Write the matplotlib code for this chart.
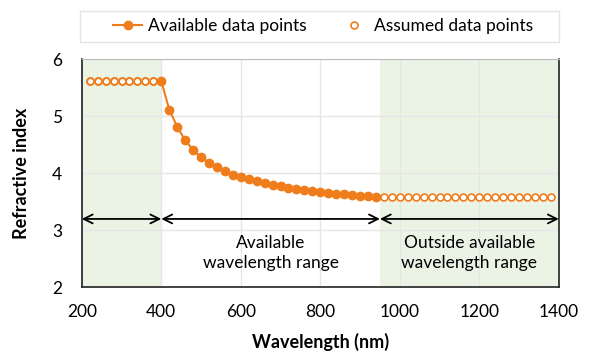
import matplotlib.pyplot as plt
from matplotlib.patches import Rectangle

plt.rcParams['font.family'] = ['Lato', 'DejaVu Sans']

# available (measured) data
wl_avail = [400, 420, 440, 460, 480, 500, 520, 540, 560, 580, 600, 620, 640, 660,
            680, 700, 720, 740, 760, 780, 800, 820, 840, 860, 880, 900, 920, 940]
n_avail = [5.62, 5.12, 4.82, 4.58, 4.41, 4.28, 4.19, 4.11, 4.04, 3.98, 3.94, 3.90,
           3.86, 3.83, 3.80, 3.77, 3.75, 3.73, 3.71, 3.69, 3.67, 3.66, 3.64, 3.63,
           3.62, 3.61, 3.60, 3.59]

# assumed (extrapolated constant) points
wl_low = [220, 240, 260, 280, 300, 320, 340, 360, 380]
n_low = [5.62] * len(wl_low)
wl_high = [960, 980, 1000, 1020, 1040, 1060, 1080, 1100, 1120, 1140, 1160,
           1180, 1200, 1220, 1240, 1260, 1280, 1300, 1320, 1340, 1360, 1380]
n_high = [3.59] * len(wl_high)

range_edges = [200, 400, 950, 1400]
arrow_y = 3.2

orange = '#F07D1C'
shade = '#EBF3E5'

fig = plt.figure(figsize=(5.97, 3.56), dpi=100)
ax = fig.add_axes([0.137, 0.193, 0.799, 0.640])

ax.axvspan(range_edges[0], range_edges[1], color=shade, zorder=0, lw=0)
ax.axvspan(range_edges[2], range_edges[3], color=shade, zorder=0, lw=0)

ax.plot(wl_avail, n_avail, '-o', color=orange, lw=1.5, ms=6,
        label='Available data points', zorder=4)
ax.plot(wl_low + wl_high, n_low + n_high, 'o', ls='none', mfc='white',
        mec=orange, mew=1.2, ms=5, label='Assumed data points', zorder=3)
ax.plot(wl_low, n_low, 'o', mfc='none', mec=orange, mew=1.2, ms=5, zorder=3)

for a, b in zip(range_edges[:-1], range_edges[1:]):
    ax.annotate('', xy=(a, arrow_y), xytext=(b, arrow_y),
                arrowprops=dict(arrowstyle='<->', color='black', lw=1.3,
                                shrinkA=0, shrinkB=0, mutation_scale=16),
                zorder=5)

ax.text(675, 2.6, 'Available\nwavelength range', ha='center', va='center',
        fontsize=12.5, linespacing=1.3)
ax.text(1175, 2.6, 'Outside available\nwavelength range', ha='center', va='center',
        fontsize=12.5, linespacing=1.3)

ax.set_xlim(200, 1400)
ax.set_ylim(2, 6)
ax.set_xticks(range(200, 1401, 200))
ax.set_yticks([2, 3, 4, 5, 6])
ax.grid(True, color='#E6E6E6', lw=1, zorder=1)
ax.set_axisbelow(True)
ax.tick_params(length=0, labelsize=12.5)
ax.tick_params(axis='x', pad=12)
ax.tick_params(axis='y', pad=14)
for s in ['left', 'bottom', 'right']:
    ax.spines[s].set_color('#222222')
    ax.spines[s].set_linewidth(1.2)
ax.spines['top'].set_color('#BBBBBB')

ax.set_xlabel('Wavelength (nm)', fontsize=13, fontweight='bold', labelpad=9)
ax.set_ylabel('Refractive index', fontsize=13, fontweight='bold', labelpad=16)

fig.patches.append(Rectangle((0.134, 0.882), 0.802, 0.088, transform=fig.transFigure,
                             fill=False, ec='#E3E3E3', lw=1))
fig.legend(loc='center', bbox_to_anchor=(0.541, 0.926), ncol=2, frameon=False,
           fontsize=12.5, handlelength=1.7, handletextpad=0.3, columnspacing=1.9)

fig.savefig('out.png', dpi=100)
